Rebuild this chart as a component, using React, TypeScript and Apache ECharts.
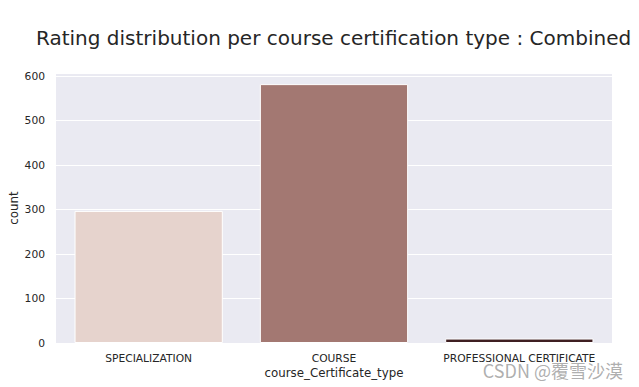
import React, { useEffect, useRef } from "react";
import * as echarts from "echarts";

const categories = ["SPECIALIZATION", "COURSE", "PROFESSIONAL CERTIFICATE"];
const counts = [297, 582, 10];
const barColors = ["#e6d3cd", "#a37872", "#3f1f22"];
const titleText = "Rating distribution per course certification type : Combined";
const xName = "course_Certificate_type";
const yName = "count";
const watermark = "CSDN @覆雪沙漠";

const FONT = "DejaVu Sans";

export default function App() {
  const ref = useRef<HTMLDivElement>(null);
  useEffect(() => {
    if (!ref.current) return;
    const chart = echarts.init(ref.current, undefined, { renderer: "svg" });
    chart.setOption({
      animation: false,
      backgroundColor: "#ffffff",
      title: {
        text: titleText,
        left: 36,
        top: 28,
        padding: 0,
        textStyle: { fontFamily: FONT, fontSize: 20, fontWeight: "normal", color: "#262626" },
      },
      grid: {
        left: 56,
        right: 27,
        top: 73,
        bottom: 44,
        show: true,
        backgroundColor: "#eaeaf2",
        borderWidth: 0,
        containLabel: false,
        outerBoundsMode: "none",
      },
      xAxis: {
        type: "category",
        data: categories,
        name: xName,
        nameLocation: "middle",
        nameGap: 24,
        nameMoveOverlap: false,
        nameTextStyle: { fontFamily: FONT, fontSize: 11.8, color: "#262626" },
        axisLine: { show: false },
        axisTick: { show: false },
        axisLabel: { fontFamily: FONT, fontSize: 10.7, color: "#262626", margin: 10, interval: 0 },
        splitLine: { show: false },
      },
      yAxis: {
        type: "value",
        min: 0,
        max: 607,
        interval: 100,
        name: yName,
        nameLocation: "middle",
        nameGap: 36,
        nameMoveOverlap: false,
        nameTextStyle: { fontFamily: FONT, fontSize: 11.8, color: "#262626" },
        axisLine: { show: false },
        axisTick: { show: false },
        axisLabel: {
          fontFamily: FONT,
          fontSize: 10.7,
          color: "#262626",
          margin: 11,
          formatter: (v: number) => (v % 100 === 0 ? String(v) : ""),
        },
        splitLine: { show: true, lineStyle: { color: "#ffffff", width: 1 } },
      },
      series: [
        {
          type: "bar",
          data: counts.map((v, i) => ({ value: v, itemStyle: { color: barColors[i] } })),
          barWidth: "80%",
          itemStyle: { borderColor: "#ffffff", borderWidth: 1 },
        },
      ],
      graphic: [
        {
          type: "text",
          right: 16,
          bottom: 8,
          style: {
            text: watermark,
            fontFamily: "Noto Sans CJK SC",
            fontSize: 18,
            fill: "rgba(140,140,140,0.7)",
          },
          z: 100,
        },
      ],
    });
    return () => chart.dispose();
  }, []);
  return <div ref={ref} style={{ position: "fixed", left: 0, top: 0, width: 639, height: 387 }} />;
}
